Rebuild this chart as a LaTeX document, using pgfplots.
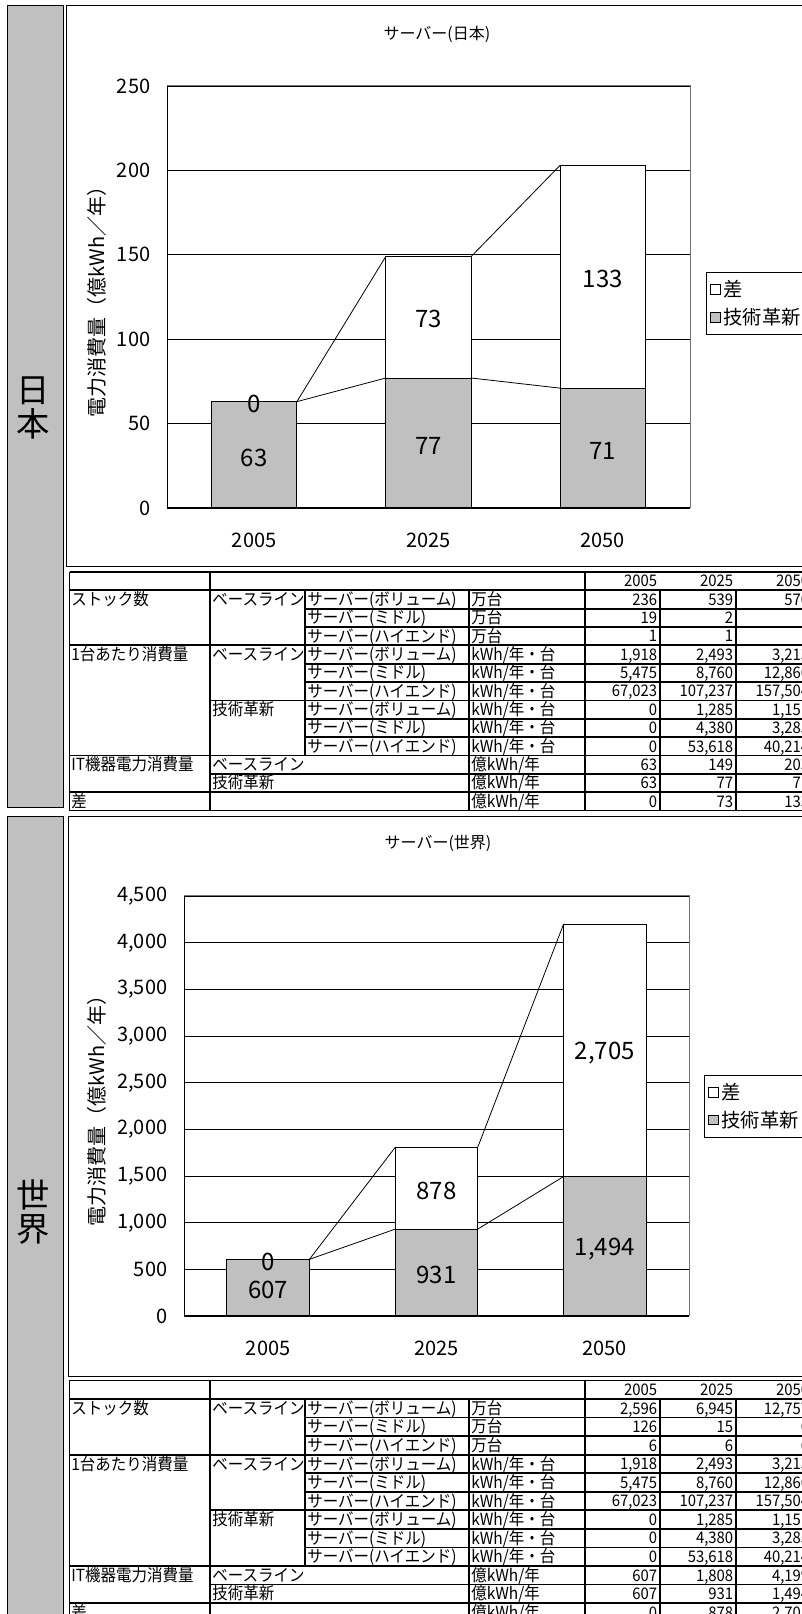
\documentclass[border=0pt]{standalone}
\usepackage{fontspec}
\setmainfont{Noto Sans CJK JP}
\newfontfamily\tblfont[FakeStretch=0.93]{Noto Sans CJK JP}
\usepackage{pgfplots}
\pgfplotsset{compat=1.18}
\definecolor{bargray}{RGB}{192,192,192}
\definecolor{bandgray}{RGB}{192,192,192}
\newcommand{\fs}[1]{\fontsize{#1}{#1}\selectfont}

\pgfplotsset{
 srv/.style={
  scale only axis,
  xmin=-0.5, xmax=2.5, ymin=0,
  xtick={0,1,2}, xticklabels={2005,2025,2050},
  major x tick style={draw=none},
  extra x ticks={0.5,1.5}, extra x tick labels={},
  extra x tick style={major tick length=5.25pt, tick align=inside, tick style={black, line width=0.75pt}},
  major y tick style={draw=none},
  ymajorgrids, grid style={black, line width=0.6pt},
  axis line style={black!55, line width=0.75pt},
  tick label style={font=\fs{15}},
  /pgf/number format/assume math mode=true,
  /pgf/number format/1000 sep={,},
  scaled y ticks=false,
  yticklabel style={xshift=-9pt},
  xticklabel style={yshift=-15pt},
  clip=false,
  legend style={anchor=north west, draw=black, line width=0.6pt, font=\fs{14.5},
    cells={anchor=west}, row sep=3pt, inner xsep=3pt, inner ysep=4pt},
  legend image code/.code={\draw[line width=0.6pt,##1] (0pt,-3.6pt) rectangle (7.2pt,3.6pt);},
 },
 lab/.style={draw=none, mark=none, forget plot, nodes near coords, point meta=explicit symbolic,
   nodes near coords align=center,
   every node near coord/.append style={font=\fs{18}, text=black, yshift=-2pt}},
 barw/.style={ybar, bar width=0.49, bar shift=0pt, draw=black, line width=0.75pt, forget plot},
 sline/.style={black, line width=0.6pt, forget plot, mark=none},
}

\newcommand{\tablegrid}{%
 \begin{scope}[line width=1.35pt]
 \foreach \k in {0,1,4,10,12,13} \draw (69.5,\k) -- (830,\k);
 \foreach \k in {2,3,5,6,8,9} \draw (305,\k) -- (830,\k);
 \foreach \k in {7,11} \draw (210,\k) -- (830,\k);
 \draw (69.5,0) -- (69.5,13);
 \draw (210,0) -- (210,13);
 \draw (305,1) -- (305,10);
 \draw (469,1) -- (469,13);
 \draw (585,0) -- (585,13);
 \draw (660,1) -- (660,13);
 \draw (736,1) -- (736,13);
 \end{scope}
 \tikzset{tl/.style={anchor=base west, inner sep=0pt, yshift=2.4pt, font=\tblfont\fs{12.5}}}
 \node[tl] at (71,2) {ストック数};
 \node[tl] at (212,2) {ベースライン};
 \node[tl] at (307,2) {サーバー(ボリューム)};
 \node[tl] at (307,3) {サーバー(ミドル)};
 \node[tl] at (307,4) {サーバー(ハイエンド)};
 \foreach \k in {2,3,4} \node[tl] at (471,\k) {万台};
 \node[tl] at (71,5) {1台あたり消費量};
 \node[tl] at (212,5) {ベースライン};
 \node[tl] at (212,8) {技術革新};
 \foreach \k in {5,8} {
   \node[tl] at (307,\k) {サーバー(ボリューム)};
   \node[tl] at (307,\k+1) {サーバー(ミドル)};
   \node[tl] at (307,\k+2) {サーバー(ハイエンド)};}
 \foreach \k in {5,...,10} \node[tl] at (471,\k) {kWh/年・台};
 \node[tl] at (71,11) {IT機器電力消費量};
 \node[tl] at (212,11) {ベースライン};
 \node[tl] at (212,12) {技術革新};
 \foreach \k in {11,12,13} \node[tl] at (471,\k) {億kWh/年};
 \node[tl] at (71,13) {差};
}
\newcommand{\trow}[4]{%
 \node[anchor=base east, inner sep=0pt, yshift=2.6pt, font=\tblfont\fs{12}] at (657.5,#1+1) {#2};
 \node[anchor=base east, inner sep=0pt, yshift=2.6pt, font=\tblfont\fs{12}] at (733.5,#1+1) {#3};
 \node[anchor=base east, inner sep=0pt, yshift=2.6pt, font=\tblfont\fs{12}] at (809.5,#1+1) {#4};}

\begin{document}
\begin{tikzpicture}[x=0.75pt,y=0.75pt]
\useasboundingbox (0,0) rectangle (802,1614);
\clip (0,0) rectangle (802,1614);

% left bands
\draw[fill=bandgray, line width=0.75pt] (7,1608.3) rectangle (63,806.3);
\draw[fill=bandgray, line width=0.75pt] (7,797.3) rectangle (63,-10);
\node[font=\fontsize{25}{25}\selectfont, align=center, inner sep=0pt] at (33,1206) {日\\本};
\node[font=\fontsize{25}{25}\selectfont, align=center, inner sep=0pt] at (33,402) {世\\界};

% chart frames
\draw[line width=0.75pt] (66,1608.3) rectangle (830,1047);
\draw[line width=0.75pt] (68,797) rectangle (830,237);

% tables
\begin{scope}[shift={(0,1042)}, y=-13.7625pt]
\tablegrid
\trow{0}{2005}{2025}{2050}
\trow{1}{236}{539}{570}
\trow{2}{19}{2}{1}
\trow{3}{1}{1}{1}
\trow{4}{1,918}{2,493}{3,213}
\trow{5}{5,475}{8,760}{12,866}
\trow{6}{67,023}{107,237}{157,504}
\trow{7}{0}{1,285}{1,151}
\trow{8}{0}{4,380}{3,285}
\trow{9}{0}{53,618}{40,214}
\trow{10}{63}{149}{203}
\trow{11}{63}{77}{71}
\trow{12}{0}{73}{133}
\end{scope}
\begin{scope}[shift={(0,233.5)}, y=-13.9125pt]
\tablegrid
\trow{0}{2005}{2025}{2050}
\trow{1}{2,596}{6,945}{12,757}
\trow{2}{126}{15}{6}
\trow{3}{6}{6}{6}
\trow{4}{1,918}{2,493}{3,213}
\trow{5}{5,475}{8,760}{12,866}
\trow{6}{67,023}{107,237}{157,504}
\trow{7}{0}{1,285}{1,151}
\trow{8}{0}{4,380}{3,285}
\trow{9}{0}{53,618}{40,214}
\trow{10}{607}{1,808}{4,199}
\trow{11}{607}{931}{1,494}
\trow{12}{0}{878}{2,705}
\end{scope}

% Japan chart
\begin{axis}[srv, at={(125.25pt,829.5pt)}, anchor=south west,
  width=392.25pt, height=316.5pt, ymax=250, ytick={0,50,...,250},
  title={サーバー(日本)},
  every axis title/.style={at={(axis description cs:0.516,1.123)}, anchor=center, font=\fs{12}},
  ylabel={電力消費量（億kWh／年）},
  every axis y label/.style={at={(axis description cs:-0.134,0.5)}, rotate=90, anchor=center, font=\fs{15}},
  legend style={at={(axis description cs:1.0306,0.5592)}}]
\addplot[barw, fill=white] coordinates {(0,63) (1,149) (2,203)};
\addplot[barw, fill=bargray] coordinates {(0,63) (1,77) (2,71)};
\addplot[sline] coordinates {(0.245,63) (0.755,77)};
\addplot[sline] coordinates {(1.245,77) (1.755,71)};
\addplot[sline] coordinates {(0.245,63) (0.755,149)};
\addplot[sline] coordinates {(1.245,149) (1.755,203)};
\draw[black, line width=0.75pt] (rel axis cs:0,1) -- (rel axis cs:0,0) -- (rel axis cs:1,0);
\addplot[lab] table[meta=lab] {
x y lab
0 31.5 63
1 38.5 77
2 35.5 71
0 63 0
1 113.5 73
2 137.5 133
};
\addlegendimage{fill=white, draw=black}
\addlegendimage{fill=bargray, draw=black}
\legend{差, 技術革新\hspace*{30pt}}
\end{axis}

% World chart
\begin{axis}[srv, at={(138pt,223.5pt)}, anchor=south west,
  width=378.75pt, height=315pt, ymax=4500, ytick={0,500,...,4500},
  title={サーバー(世界)},
  every axis title/.style={at={(axis description cs:0.503,1.126)}, anchor=center, font=\fs{12}},
  ylabel={電力消費量（億kWh／年）},
  every axis y label/.style={at={(axis description cs:-0.172,0.5)}, rotate=90, anchor=center, font=\fs{15}},
  legend style={at={(axis description cs:1.0297,0.574)}}]
\addplot[barw, fill=white] coordinates {(0,607) (1,1808) (2,4199)};
\addplot[barw, fill=bargray] coordinates {(0,607) (1,931) (2,1494)};
\addplot[sline] coordinates {(0.245,607) (0.755,931)};
\addplot[sline] coordinates {(1.245,931) (1.755,1494)};
\addplot[sline] coordinates {(0.245,607) (0.755,1808)};
\addplot[sline] coordinates {(1.245,1808) (1.755,4199)};
\draw[black, line width=0.75pt] (rel axis cs:0,1) -- (rel axis cs:0,0) -- (rel axis cs:1,0);
\addplot[lab] table[meta=lab] {
x y lab
0 303.5 607
1 465.5 931
2 747 1,494
0 607 0
1 1370 878
2 2846.5 2,705
};
\addlegendimage{fill=white, draw=black}
\addlegendimage{fill=bargray, draw=black}
\legend{差, 技術革新\hspace*{30pt}}
\end{axis}
\end{tikzpicture}
\end{document}
